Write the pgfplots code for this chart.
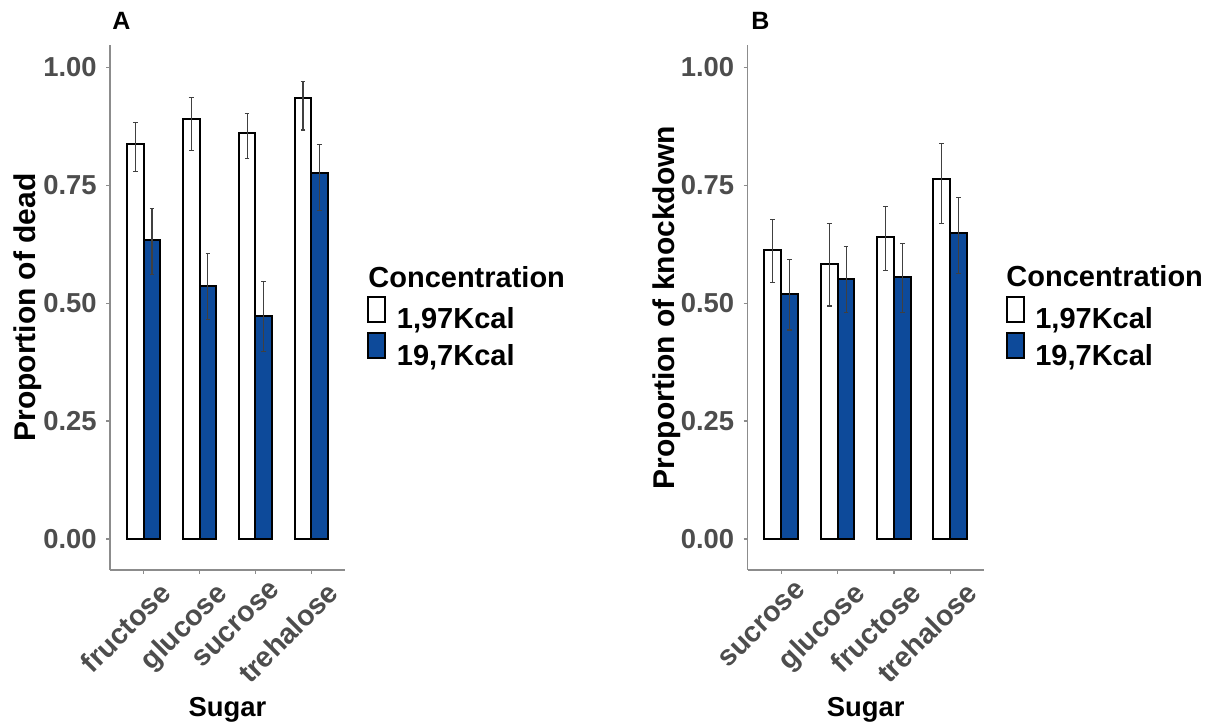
\documentclass[border=0pt]{standalone}
\usepackage{fontspec}
\setmainfont{Liberation Sans}
\usepackage{pgfplots}
\pgfplotsset{compat=1.18}
\usepackage{pgfplotstable}
\definecolor{barblue}{HTML}{0D4A9A}
\definecolor{tickgray}{HTML}{4D4D4D}
\definecolor{axgray}{HTML}{8C8C8C}
\definecolor{errgray}{HTML}{404040}

% Panel A: fructose, glucose, sucrose, trehalose
\pgfplotstableread{
x    y     ep    em
0.85 0.837 0.046 0.057
1.85 0.891 0.045 0.068
2.85 0.860 0.043 0.054
3.85 0.935 0.035 0.068
}\Awhite
\pgfplotstableread{
x    y     ep    em
1.15 0.634 0.067 0.074
2.15 0.536 0.069 0.070
3.15 0.472 0.074 0.075
4.15 0.775 0.062 0.079
}\Ablue
% Panel B: sucrose, glucose, fructose, trehalose
\pgfplotstableread{
x    y     ep    em
0.85 0.613 0.065 0.070
1.85 0.583 0.086 0.089
2.85 0.640 0.065 0.070
3.85 0.764 0.074 0.095
}\Bwhite
\pgfplotstableread{
x    y     ep    em
1.15 0.519 0.073 0.076
2.15 0.552 0.068 0.072
3.15 0.555 0.071 0.075
4.15 0.649 0.075 0.087
}\Bblue

\pgfplotsset{
  panel/.style={
    scale only axis, height=262.5pt,
    clip=false,
    xmin=0.4, xmax=4.6, ymin=-0.0657, ymax=1.0473,
    axis lines*=left,
    axis line style={axgray, line width=0.6pt},
    tick style={axgray, line width=0.6pt},
    tick align=outside, major tick length=2pt,
    tick pos=left,
    xtick={1,2,3,4},
    ytick={0,0.25,0.5,0.75,1},
    /pgf/number format/assume math mode=true,
    yticklabel style={/pgf/number format/fixed, /pgf/number format/fixed zerofill, /pgf/number format/precision=2,
      anchor=east, inner sep=0pt, xshift=-4.5pt, font=\fontsize{13.7}{16}\selectfont\bfseries},
    ticklabel style={text=tickgray},
    xticklabel style={rotate=45, anchor=north east, inner sep=0pt, xshift=3pt, yshift=-7pt,
      font=\fontsize{14.3}{17}\selectfont\bfseries},
    xlabel style={at={(axis description cs:0.5,-0.2781)}, anchor=base, font=\fontsize{13.7}{16}\selectfont\bfseries, inner sep=0pt},
    ylabel style={anchor=center, font=\fontsize{15}{18}\selectfont\bfseries, inner sep=0pt},
    legend cell align=left,
    legend style={anchor=north west, draw=none, fill=none, inner sep=0pt, outer sep=0pt,
      row sep=0pt, font=\fontsize{14.5}{17}\selectfont\bfseries,
      nodes={inner sep=0pt, outer sep=0pt},
      /tikz/every odd column/.style={column sep=5.3pt}},
    legend image code/.code={\draw[##1, line width=1pt] (0.5pt,-0.85pt) rectangle (9pt,11.65pt);},
  },
  wbar/.style={ybar, bar width=0.3, bar shift=0pt, fill=white, draw=black, line width=1pt,
    error bars/.cd, y dir=both, y explicit,
    error bar style={line width=0.55pt, errgray},
    error mark options={rotate=90, mark size=1.2pt, line width=0.55pt, errgray}},
  bbar/.style={ybar, bar width=0.3, bar shift=0pt, fill=barblue, draw=black, line width=1pt,
    error bars/.cd, y dir=both, y explicit,
    error bar style={line width=0.55pt, errgray},
    error mark options={rotate=90, mark size=1.2pt, line width=0.55pt, errgray}},
}

\begin{document}
\begin{tikzpicture}
\path[use as bounding box] (0,0) rectangle (610pt,363pt);

\begin{axis}[panel, width=117.5pt, at={(55pt,78pt)}, anchor=south west,
  xticklabels={fructose,glucose,sucrose,trehalose},
  xlabel={Sugar}, ylabel={Proportion of dead},
  ylabel style={at={(axis description cs:-0.351,0.5)}},
  legend style={at={(axis description cs:1.0949,0.5225)}}]
\addplot[wbar] table[x=x, y=y, y error plus=ep, y error minus=em] {\Awhite};
\addlegendentry{1,97Kcal}
\addplot[bbar] table[x=x, y=y, y error plus=ep, y error minus=em] {\Ablue};
\addlegendentry{19,7Kcal}
\node[anchor=base west, inner sep=0pt, font=\fontsize{14.5}{17}\selectfont\bfseries] at (axis description cs:1.0979,0.5385) {Concentration};
\node[anchor=base west, inner sep=0pt, font=\fontsize{12.5}{15}\selectfont\bfseries] at (axis description cs:0.0085,1.0286) {A};
\end{axis}

\begin{axis}[panel, width=118.25pt, at={(373.75pt,78pt)}, anchor=south west,
  xticklabels={sucrose,glucose,fructose,trehalose},
  xlabel={Sugar}, ylabel={Proportion of knockdown},
  ylabel style={at={(axis description cs:-0.3416,0.5)}},
  legend style={at={(axis description cs:1.0918,0.5225)}}]
\addplot[wbar] table[x=x, y=y, y error plus=ep, y error minus=em] {\Bwhite};
\addlegendentry{1,97Kcal}
\addplot[bbar] table[x=x, y=y, y error plus=ep, y error minus=em] {\Bblue};
\addlegendentry{19,7Kcal}
\node[anchor=base west, inner sep=0pt, font=\fontsize{14.5}{17}\selectfont\bfseries] at (axis description cs:1.0930,0.5396) {Concentration};
\node[anchor=base west, inner sep=0pt, font=\fontsize{12.5}{15}\selectfont\bfseries] at (axis description cs:0.0148,1.0286) {B};
\end{axis}
\end{tikzpicture}
\end{document}
